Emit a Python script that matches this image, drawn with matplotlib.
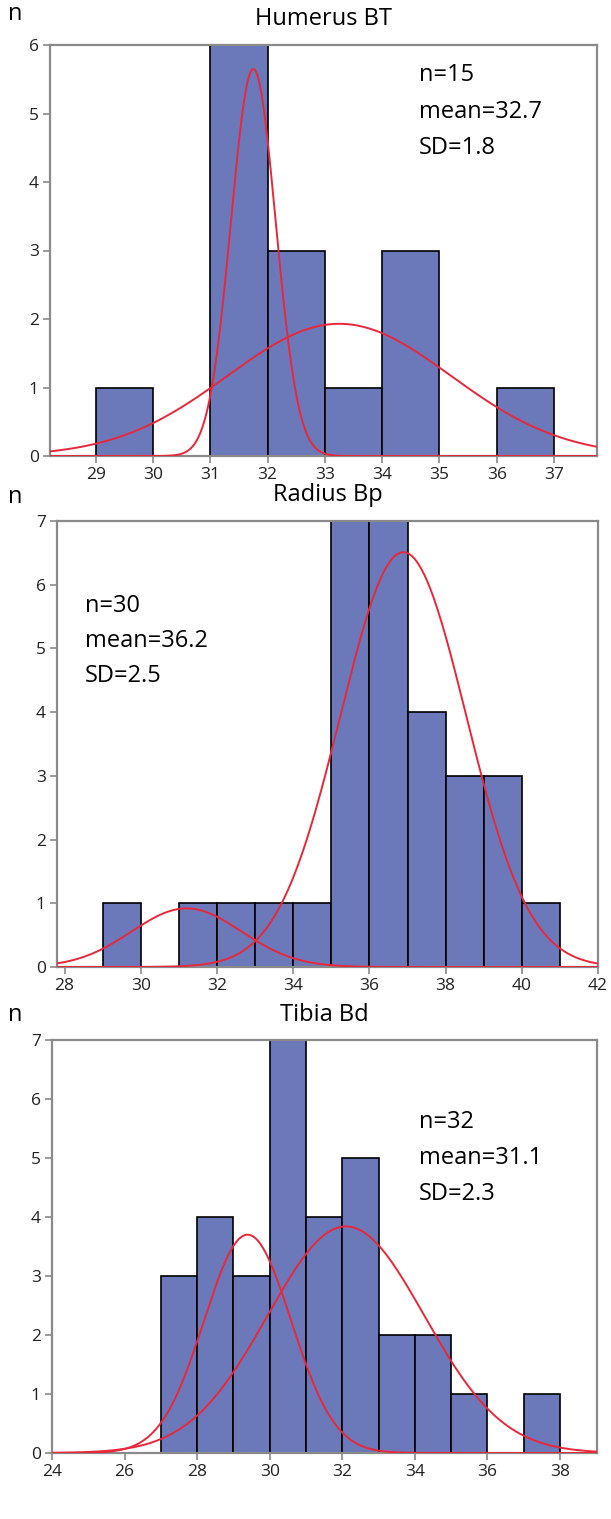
import numpy as np
import matplotlib
matplotlib.use("Agg")
import matplotlib.pyplot as plt

plt.rcParams['font.family'] = ['Open Sans', 'DejaVu Sans']

# histogram bins (left edges, width 1) and counts
hum_edges = [29, 30, 31, 32, 33, 34, 35, 36]
hum_counts = [1, 0, 6, 3, 1, 3, 0, 1]
rad_edges = [29, 30, 31, 32, 33, 34, 35, 36, 37, 38, 39, 40]
rad_counts = [1, 0, 1, 1, 1, 1, 7, 7, 4, 3, 3, 1]
tib_edges = [27, 28, 29, 30, 31, 32, 33, 34, 35, 36, 37]
tib_counts = [3, 4, 3, 7, 4, 5, 2, 2, 1, 0, 1]

# fitted normal components: mean, sd, peak height
hum_comp_mu = [31.75, 33.25]
hum_comp_sd = [0.39, 1.95]
hum_comp_peak = [5.65, 1.93]
rad_comp_mu = [31.2, 36.89]
rad_comp_sd = [1.44, 1.65]
rad_comp_peak = [0.92, 6.51]
tib_comp_mu = [29.39, 32.1]
tib_comp_sd = [1.2, 2.16]
tib_comp_peak = [3.7, 3.84]

titles = ["Humerus BT", "Radius Bp", "Tibia Bd"]
stats = [["n=15", "mean=32.7", "SD=1.8"],
         ["n=30", "mean=36.2", "SD=2.5"],
         ["n=32", "mean=31.1", "SD=2.3"]]

bar_color = "#6b79bb"
curve_color = "#e8283a"
spine_color = "#8a8a8a"

W, H = 611, 1519
fig = plt.figure(figsize=(W / 100, H / 100), dpi=100)


def px_axes(left, top, right, bottom):
    return fig.add_axes([left / W, 1 - bottom / H, (right - left) / W, (bottom - top) / H])


def draw(ax, edges, counts, mus, sds, peaks, xlim, ylim, xticks, title, stat, stat_x, stat_ys, title_y, n_y):
    ax.bar(edges, counts, width=1, align='edge', color=bar_color, edgecolor='black', linewidth=1.2, zorder=2)
    x = np.linspace(xlim[0], xlim[1], 400)
    for mu, sd, pk in zip(mus, sds, peaks):
        ax.plot(x, pk * np.exp(-0.5 * ((x - mu) / sd) ** 2), color=curve_color, lw=1.4, zorder=3)
    ax.set_xlim(*xlim)
    ax.set_ylim(*ylim)
    ax.set_xticks(xticks)
    ax.set_yticks(range(ylim[1] + 1))
    for s in ax.spines.values():
        s.set_color(spine_color)
        s.set_linewidth(1.6)
    ax.tick_params(colors=spine_color, labelcolor='#222222', labelsize=12.5, length=5, width=1.2,
                   direction='out', pad=3)
    pos = ax.get_position()
    fig.text(0.5 * (pos.x0 + pos.x1), 1 - title_y / H, title, ha='center', va='center', fontsize=17)
    fig.text(8 / W, 1 - n_y / H, "n", ha='left', va='center', fontsize=17)
    for line, y in zip(stat, stat_ys):
        fig.text(stat_x / W, 1 - y / H, line, ha='left', va='center', fontsize=17)


ax1 = px_axes(50, 45, 597, 456)
draw(ax1, hum_edges, hum_counts, hum_comp_mu, hum_comp_sd, hum_comp_peak,
     (28.2, 37.75), (0, 6), range(29, 38), titles[0], stats[0], 419, (75, 112, 148), 19, 14)

ax2 = px_axes(57, 521, 598, 967)
draw(ax2, rad_edges, rad_counts, rad_comp_mu, rad_comp_sd, rad_comp_peak,
     (27.8, 42), (0, 7), range(28, 43, 2), titles[1], stats[1], 85, (606, 641, 676), 495, 497)

ax3 = px_axes(52, 1040, 597, 1453)
draw(ax3, tib_edges, tib_counts, tib_comp_mu, tib_comp_sd, tib_comp_peak,
     (24, 39.02), (0, 7), range(24, 39, 2), titles[2], stats[2], 419, (1122, 1158, 1194), 1015, 1015)

fig.savefig("out.png", dpi=100)
